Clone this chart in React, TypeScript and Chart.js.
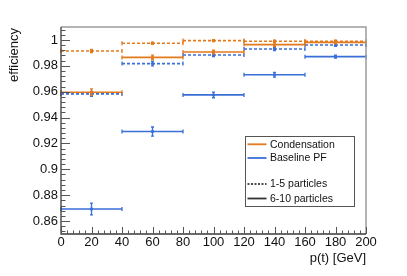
import React, { useEffect, useRef } from "react";
import { Chart, registerables } from "chart.js";

Chart.register(...registerables);

// ---- data ----
const binEdges = [0, 40, 80, 120, 160, 200];
const condLow = [0.9915, 0.9974, 0.9995, 0.999, 0.999];
const condLowErr = [0.0012, 0.0008, 0.0008, 0.0008, 0.0008];
const condHigh = [0.9596, 0.9865, 0.9907, 0.9964, 0.9981];
const condHighErr = [0.0025, 0.0018, 0.0015, 0.0015, 0.0012];
const pfLow = [0.9583, 0.9817, 0.9883, 0.993, 0.9961];
const pfLowErr = [0.002, 0.0018, 0.0012, 0.0012, 0.001];
const pfHigh = [0.8693, 0.9292, 0.9575, 0.9731, 0.9871];
const pfHighErr = [0.0045, 0.0035, 0.0022, 0.0018, 0.0012];
const xTicks = [0, 20, 40, 60, 80, 100, 120, 140, 160, 180, 200];
const yTicks = [0.86, 0.88, 0.9, 0.92, 0.94, 0.96, 0.98, 1];
const legendLabels = ["Condensation", "Baseline PF", "1-5 particles", "6-10 particles"];
const xTitle = "p(t) [GeV]";
const yTitle = "efficiency";

const ORANGE = "#e37a1e";
const BLUE = "#3b6fd8";
const FONT = "Liberation Sans, Arial, Helvetica, sans-serif";

const series = [
  { label: "Baseline PF 6-10", values: pfHigh, errs: pfHighErr, color: BLUE, dashed: false },
  { label: "Baseline PF 1-5", values: pfLow, errs: pfLowErr, color: BLUE, dashed: true },
  { label: "Condensation 6-10", values: condHigh, errs: condHighErr, color: ORANGE, dashed: false },
  { label: "Condensation 1-5", values: condLow, errs: condLowErr, color: ORANGE, dashed: true },
];

function stepData(values: number[]) {
  const out: { x: number; y: number | null }[] = [];
  values.forEach((v, i) => {
    out.push({ x: binEdges[i], y: v });
    out.push({ x: binEdges[i + 1], y: v });
    out.push({ x: binEdges[i + 1], y: null });
  });
  return out;
}

const decorPlugin = {
  id: "decor",
  afterDatasetsDraw(chart: any) {
    const ctx = chart.ctx;
    const xs = chart.scales.x;
    const ys = chart.scales.y;
    ctx.save();
    series.forEach((s) => {
      ctx.strokeStyle = s.color;
      ctx.fillStyle = s.color;
      ctx.lineWidth = 1.3;
      ctx.setLineDash([]);
      s.values.forEach((v, i) => {
        const lo = xs.getPixelForValue(binEdges[i]);
        const hi = xs.getPixelForValue(binEdges[i + 1]);
        const cx = xs.getPixelForValue((binEdges[i] + binEdges[i + 1]) / 2);
        const py = ys.getPixelForValue(v);
        const pTop = ys.getPixelForValue(v + s.errs[i]);
        const pBot = ys.getPixelForValue(v - s.errs[i]);
        ctx.beginPath();
        ctx.moveTo(lo, py - 2); ctx.lineTo(lo, py + 2);
        ctx.moveTo(hi, py - 2); ctx.lineTo(hi, py + 2);
        ctx.moveTo(cx, pTop); ctx.lineTo(cx, pBot);
        ctx.moveTo(cx - 1.5, pTop); ctx.lineTo(cx + 1.5, pTop);
        ctx.moveTo(cx - 1.5, pBot); ctx.lineTo(cx + 1.5, pBot);
        ctx.stroke();
        ctx.beginPath();
        ctx.arc(cx, py, 1.7, 0, Math.PI * 2);
        ctx.fill();
      });
    });
    ctx.restore();
  },
  afterDraw(chart: any) {
    const ctx = chart.ctx;
    const xs = chart.scales.x;
    const ys = chart.scales.y;
    const { left, right, top, bottom } = chart.chartArea;
    ctx.save();
    ctx.setLineDash([]);
    ctx.strokeStyle = "#9c9c9c";
    ctx.lineWidth = 1.5;
    ctx.beginPath();
    ctx.moveTo(left, top); ctx.lineTo(right, top); ctx.lineTo(right, bottom);
    ctx.stroke();
    ctx.strokeStyle = "#3a3a3a";
    ctx.lineWidth = 1.3;
    ctx.beginPath();
    ctx.moveTo(left, top); ctx.lineTo(left, bottom); ctx.lineTo(right, bottom);
    ctx.stroke();
    ctx.strokeStyle = "#555";
    ctx.lineWidth = 1;
    ctx.beginPath();
    const yMin = ys.min, yMax = ys.max;
    for (let k = 0; k <= 40; k++) {
      const v = 0.852 + k * 0.004;
      if (v > yMax + 1e-9 || v < yMin - 1e-9) continue;
      const major = Math.abs((v - 0.86) / 0.02 - Math.round((v - 0.86) / 0.02)) < 1e-6;
      const py = Math.round(ys.getPixelForValue(v)) + 0.5;
      ctx.moveTo(left, py);
      ctx.lineTo(left + (major ? 9 : 4.5), py);
    }
    for (let v = 0; v <= 200; v += 4) {
      const major = v % 20 === 0;
      const px = Math.round(xs.getPixelForValue(v)) + 0.5;
      ctx.moveTo(px, bottom);
      ctx.lineTo(px, bottom - (major ? 7 : 3.5));
    }
    ctx.stroke();

    // y axis title (ROOT style: right-aligned at the top)
    ctx.save();
    ctx.translate(14, top + 1);
    ctx.rotate(-Math.PI / 2);
    ctx.font = `13px ${FONT}`;
    ctx.fillStyle = "#111";
    ctx.textAlign = "right";
    ctx.textBaseline = "middle";
    ctx.fillText(yTitle, 0, 0);
    ctx.restore();

    // legend
    const bx = 245.5, by = 136.5, bw = 109, bh = 70;
    ctx.fillStyle = "#fff";
    ctx.fillRect(bx, by, bw, bh);
    ctx.strokeStyle = "#555";
    ctx.lineWidth = 1;
    ctx.strokeRect(bx, by, bw, bh);
    const rows = [
      { text: legendLabels[0], color: ORANGE, dashed: false, y: 144.3 },
      { text: legendLabels[1], color: BLUE, dashed: false, y: 158 },
      { text: legendLabels[2], color: "#111", dashed: true, y: 184 },
      { text: legendLabels[3], color: "#333", dashed: false, y: 198.5 },
    ];
    ctx.font = `10.5px ${FONT}`;
    ctx.textBaseline = "middle";
    ctx.textAlign = "left";
    rows.forEach((r) => {
      ctx.strokeStyle = r.color;
      ctx.lineWidth = r.dashed ? 1.3 : 1.8;
      ctx.setLineDash(r.dashed ? [2, 1.5] : []);
      ctx.beginPath();
      ctx.moveTo(247.5, r.y);
      ctx.lineTo(266.5, r.y);
      ctx.stroke();
      ctx.setLineDash([]);
      ctx.fillStyle = "#111";
      ctx.fillText(r.text, 270, r.y + 0.5);
    });
    ctx.restore();
  },
};

export default function App() {
  const ref = useRef<HTMLCanvasElement | null>(null);
  useEffect(() => {
    if (!ref.current) return;
    const chart = new Chart(ref.current, {
      type: "line",
      data: {
        datasets: series.map((s, i) => ({
          label: s.label,
          data: stepData(s.values),
          borderColor: s.color,
          backgroundColor: s.color,
          borderWidth: 1.6,
          borderDash: s.dashed ? [3, 2] : [],
          pointRadius: 0,
          fill: false,
          spanGaps: false,
          tension: 0,
          order: series.length - i,
        })),
      },
      options: {
        animation: false,
        responsive: false,
        maintainAspectRatio: false,
        layout: { padding: { left: 0, top: 27, right: 41, bottom: 0 } },
        plugins: { legend: { display: false }, tooltip: { enabled: false } },
        scales: {
          x: {
            type: "linear",
            min: 0,
            max: 200,
            grid: { display: false, drawTicks: false },
            border: { display: false },
            afterFit: (s: any) => { s.height = 42; },
            afterBuildTicks: (s: any) => { s.ticks = xTicks.map((v) => ({ value: v })); },
            ticks: {
              padding: 1,
              color: "#111",
              font: { family: FONT, size: 13 },
              maxRotation: 0,
              autoSkip: false,
              callback: (v: any) => String(v),
            },
            title: {
              display: true,
              text: xTitle,
              align: "end",
              color: "#111",
              font: { family: FONT, size: 13 },
              padding: { top: 0, bottom: 10 },
            },
          },
          y: {
            type: "linear",
            min: 0.85,
            max: 1.01,
            grid: { display: false, drawTicks: false },
            border: { display: false },
            afterFit: (s: any) => { s.width = 61; },
            afterBuildTicks: (s: any) => { s.ticks = yTicks.map((v) => ({ value: v })); },
            ticks: {
              padding: 3,
              color: "#111",
              font: { family: FONT, size: 13 },
              autoSkip: false,
              callback: (v: any) => String(Number(Number(v).toFixed(2))),
            },
            title: { display: false },
          },
        },
      },
      plugins: [decorPlugin],
    } as any);
    return () => chart.destroy();
  }, []);
  return (
    <div style={{ position: "fixed", left: 0, top: 0, width: 407, height: 276, background: "#fff" }}>
      <canvas ref={ref} width={407} height={276} style={{ width: 407, height: 276, display: "block" }} />
    </div>
  );
}
